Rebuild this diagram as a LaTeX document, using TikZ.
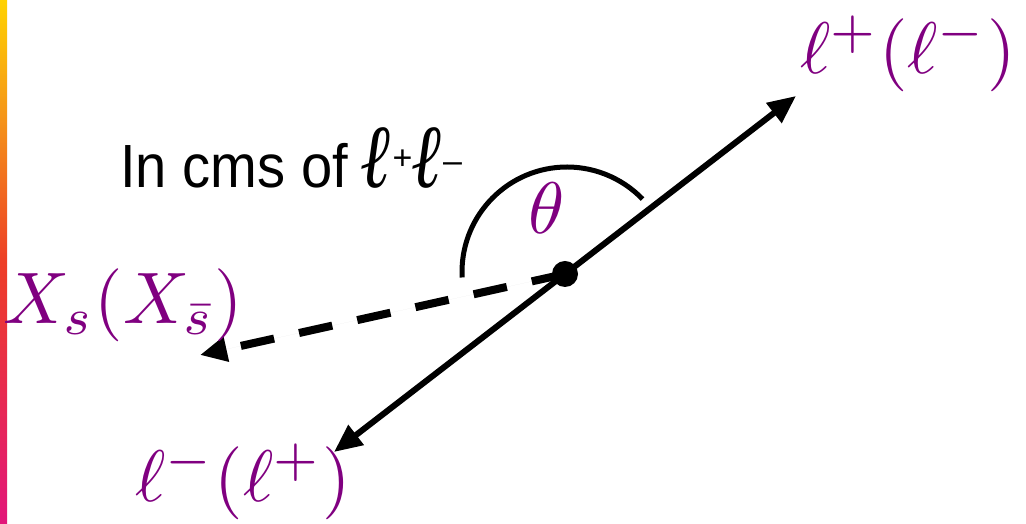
\documentclass[tikz,border=0pt]{standalone}
\usepackage[no-math]{fontspec}
\usepackage{graphicx}
\setmainfont{Liberation Sans}
\newfontfamily\lserif{Liberation Serif}
\usetikzlibrary{arrows.meta}
\definecolor{lblpurple}{RGB}{128,0,128}
\definecolor{barY}{RGB}{255,210,0}
\definecolor{barO}{RGB}{245,150,25}
\definecolor{barR}{RGB}{237,62,38}
\definecolor{barP}{RGB}{226,22,122}
\pgfdeclareverticalshading{barshade}{100bp}{color(0bp)=(barP); color(25bp)=(barP); color(50bp)=(barR); color(64bp)=(barO); color(75bp)=(barY); color(100bp)=(barY)}
\newcommand{\bigmath}[1]{\scalebox{7.3}{\fontsize{10}{12}\selectfont$#1$}}
\newcommand{\lell}{\scalebox{0.8}[1]{\fontsize{90}{92}\selectfont\lserif\bfseries\itshape ℓ}}
\newcommand{\supsign}[2]{\raisebox{#1}{\fontsize{34}{34}\selectfont #2}}
\tikzset{
  lbl/.style={text=lblpurple, inner sep=0pt},
  solidarrow/.style={line width=6pt, -{Triangle[length=28pt,width=24pt]}},
  dasharrow/.style={line width=8pt, dash pattern=on 34pt off 25.6pt, -{Triangle[length=27pt,width=24pt]}},
  anglearc/.style={line width=5pt},
  centerdot/.style={circle, fill=black, minimum size=26pt, inner sep=0pt},
  softshadow/.style={draw=black!12, fill=black!12, shift={(2pt,-3pt)}}
}
\begin{document}
\begin{tikzpicture}[x=1pt,y=1pt]
\useasboundingbox (0,0) rectangle (1026,524);
\shade[shading=barshade] (0,0) rectangle (7,524);
\coordinate (o) at (565,250);
\coordinate (arcc) at (567,252);
\coordinate (ptop) at (796,428);
\coordinate (pbot) at (334,72);
\coordinate (xtip) at (200,169);
% soft shadows
\draw[dasharrow, softshadow] (o) -- (xtip);
\draw[solidarrow, softshadow] (o) -- (ptop);
\draw[solidarrow, softshadow] (o) -- (pbot);
% arrows
\draw[dasharrow] (o) -- (xtip);
\draw[solidarrow] (o) -- (ptop);
\draw[solidarrow] (o) -- (pbot);
\draw[anglearc] (arcc) ++(183:105) arc[start angle=183, end angle=44, radius=105];
\node[centerdot] (c) at (o) {};
\node[lbl, anchor=base] (th) at (547,290) {\bigmath{\theta}};
\node[lbl, anchor=base west] (lp) at (800,450) {\bigmath{\ell^+(\ell^-)}};
\node[lbl, anchor=base west] (lm) at (135,22) {\bigmath{\ell^-(\ell^+)}};
\node[lbl, anchor=base west] (xs) at (3,200) {\bigmath{X_s(X_{\bar{s}})}};
\node[anchor=base west, inner sep=0pt] (cms) at (120,336) {\scalebox{0.92}[1]{\fontsize{61}{63}\selectfont In cms of}\hspace{14pt}\lell\supsign{18pt}{+}\lell\supsign{15pt}{–}};
\end{tikzpicture}
\end{document}
